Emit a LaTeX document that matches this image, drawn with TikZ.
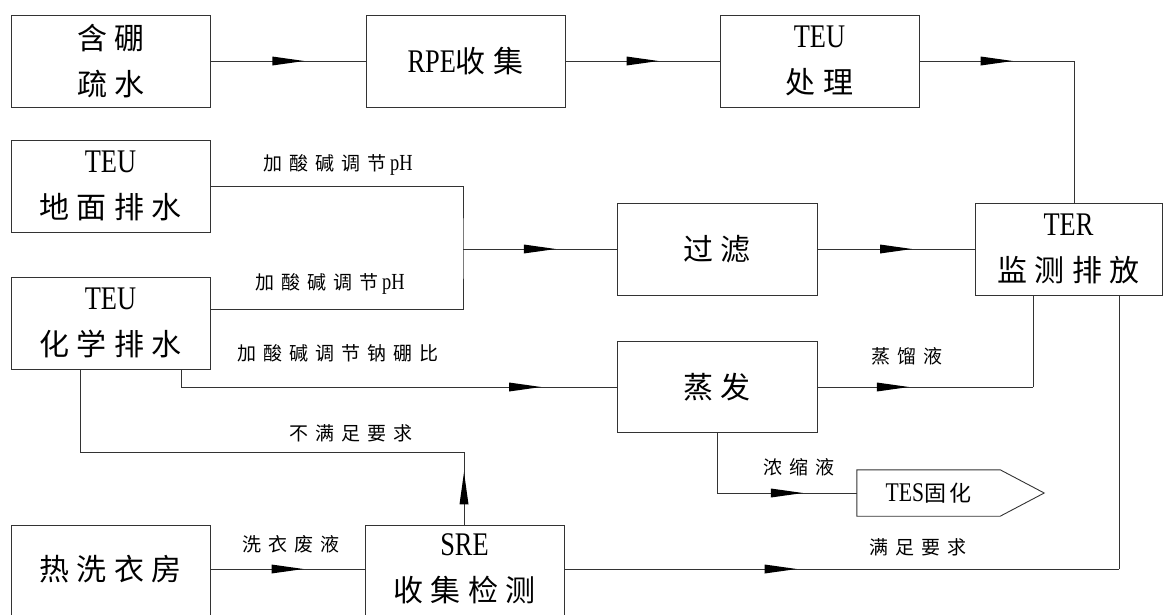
\documentclass[tikz,border=0pt]{standalone}
\usepackage{fontspec}
\usetikzlibrary{decorations.markings}
\newfontfamily\cjkA[LetterSpace=25]{Noto Sans CJK SC}
\newfontfamily\cjkB[LetterSpace=37]{Noto Sans CJK SC}
\newfontfamily\cjkC[LetterSpace=15]{Noto Sans CJK SC}
\newfontfamily\latf[FakeStretch=0.8]{Liberation Serif}
\newcommand\latw[1]{{\latf\fontsize{33}{46}\selectfont #1}}
\newcommand\latl[1]{{\latf\fontsize{23}{24}\selectfont #1}}
\newcommand\latt[1]{{\latf\fontsize{27}{30}\selectfont #1}}
\tikzset{
  box/.style={draw=black!80, line width=0.9pt, minimum width=199pt, minimum height=92pt,
    inner sep=0pt, align=center, font=\cjkA\fontsize{30}{46}\selectfont},
  lbl/.style={inner sep=0pt, font=\cjkB\fontsize{19}{22}\selectfont},
  conn/.style={draw=black!80, line width=0.9pt},
  arrowat/.style={postaction={decorate, decoration={markings,
    mark=at position #1 with {\fill[black] (-16pt,-4.5pt) -- (16pt,0pt) -- (-16pt,4.5pt) -- cycle;}}}}
}
\begin{document}
\begin{tikzpicture}[x=1pt, y=-1pt]
\fill[white] (0,0) rectangle (1165,614);
\useasboundingbox (0,0) rectangle (1165,614);

% boxes
\node[box] (n1) at (111,61) {含硼\\疏水};
\node[box] (n2) at (465.5,61) {\latw{RPE}收集};
\node[box] (n3) at (819.5,61) {\latw{TEU}\\处理};
\node[box, minimum width=187pt] (ter) at (1068.5,249) {\latw{TER}\\监测排放};
\node[box, minimum width=200pt] (filt) at (717,249) {过滤};
\node[box, minimum width=200pt, minimum height=91pt] (evap) at (717,387) {蒸发};
\node[box] (n4) at (110.5,186) {\latw{TEU}\\地面排水};
\node[box] (n5) at (110.5,323) {\latw{TEU}\\化学排水};
\node[box, minimum height=104pt, label={[box, draw=none, minimum height=0pt, yshift=8pt]center:热洗衣房}] (n6) at (110.5,577) {};
\node[box, minimum height=104pt, label={[box, draw=none, minimum height=0pt, yshift=8pt]center:{\latw{SRE}\\收集检测}}] (sre) at (464.5,577) {};
\node[inner sep=0pt, minimum width=143pt, minimum height=46pt, font=\cjkC\fontsize{22}{26}\selectfont] (tes) at (928.5,493) {\latt{TES}固化};
\draw[conn] (tes.north west) -- (tes.north east) -- ([xshift=44pt]tes.east) -- (tes.south east) -- (tes.south west) -- cycle;

% coordinates
\coordinate (c3) at (1074,61);
\coordinate (ja) at (463,249);
\coordinate (c6) at (181,387);
\coordinate (c7) at (1033,387);
\coordinate (c8) at (717,493);
\coordinate (c9) at (464,452);
\coordinate (c9b) at (80,452);
\coordinate (c11) at (1119,569);

% connectors
\draw[conn, arrowat=0.5] (n1.east) -- (n2.west);
\draw[conn, arrowat=0.5] (n2.east) -- (n3.west);
\draw[conn, arrowat=0.5] (n3.east) -- (c3);
\draw[conn] (c3) -- (c3 |- ter.north);
\draw[conn] (n4.east) -| (ja) |- ([yshift=14pt]n5.east);
\draw[conn, arrowat=0.5] (ja) -- (filt.west);
\draw[conn, arrowat=0.5] (filt.east) -- (ter.west);
\draw[conn] (c6 |- n5.south) -- (c6);
\draw[conn, arrowat=0.79] (c6) -- (evap.west);
\draw[conn, arrowat=0.35] (evap.east) -- (c7);
\draw[conn] (c7) -- (c7 |- ter.south);
\draw[conn] (evap.south) -- (c8);
\draw[conn, arrowat=0.5] (c8) -- (tes.west);
\draw[conn, arrowat=0.5] (c9 |- sre.north) -- (c9);
\draw[conn] (c9) -- (c9b) -- (c9b |- n5.south);
\draw[conn, arrowat=0.5] (n6.east |- c11) -- (sre.west |- c11);
\draw[conn, arrowat=0.39] (sre.east |- c11) -- (c11);
\draw[conn] (c11) -- (c11 |- ter.south);

% labels
\node[lbl] (l1) at (338,165) {加酸碱调节\latl{\,pH}};
\node[lbl] (l2) at (330,284) {加酸碱调节\latl{\,pH}};
\node[lbl] (l3) at (338,353) {加酸碱调节钠硼比};
\node[lbl] (l4) at (351,433) {不满足要求};
\node[lbl] (l5) at (291,544) {洗衣废液};
\node[lbl] (l6) at (907,356) {蒸馏液};
\node[lbl] (l7) at (799,467) {浓缩液};
\node[lbl] (l8) at (918,547) {满足要求};
\end{tikzpicture}
\end{document}
